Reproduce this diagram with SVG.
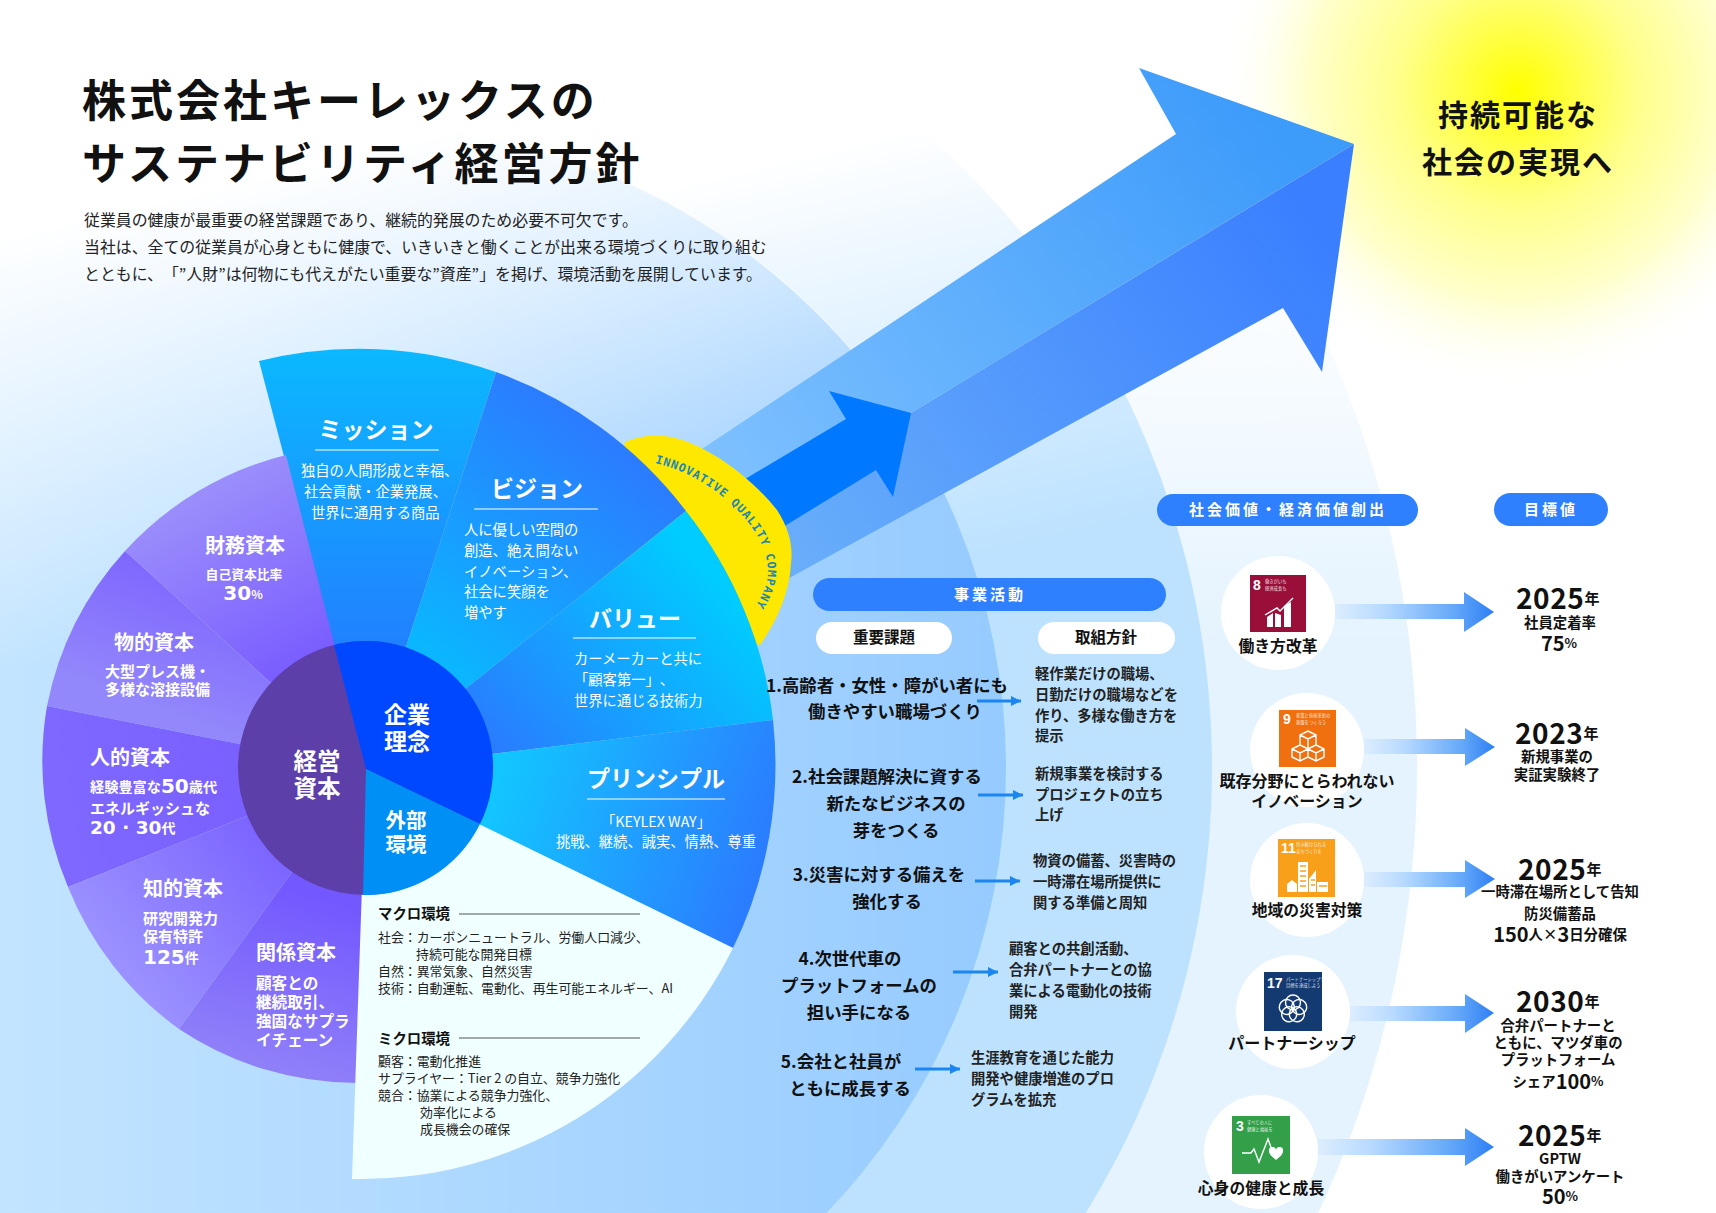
<svg xmlns="http://www.w3.org/2000/svg" width="1716" height="1213" viewBox="0 0 1716 1213">
<style>
text{font-family:"Noto Sans CJK JP","Noto Sans",sans-serif;dominant-baseline:central;transform:translateY(-1.8px);font-feature-settings:"chws" 0;text-spacing-trim:space-all}
.w{fill:#fff}.k{fill:#111}.b{font-weight:700}
.m{text-anchor:middle}
.h{font-size:20px;font-weight:700;fill:#fff}
.t{font-size:23px;font-weight:700;fill:#fff;text-anchor:middle}
.c{font-size:14.3px;fill:#fff}
.p{font-size:15px;font-weight:700;fill:#fff}
.dg{font-family:"DejaVu Sans",sans-serif;font-weight:700;font-size:20px}
.e{font-size:12.9px;fill:#222}
.eh{font-size:14.4px;font-weight:700;fill:#111}
.iss{font-size:17.4px;font-weight:700;fill:#111;text-anchor:middle}
.pol{font-size:14.3px;font-weight:700;fill:#222}
.pill{fill:#2f80ff}
.pt{font-size:15px;font-weight:700;fill:#fff;text-anchor:middle;letter-spacing:3px}
.wp{fill:#fff}
.wt{font-size:15.5px;font-weight:700;fill:#111;text-anchor:middle}
.lab{font-size:15.8px;font-weight:700;fill:#111;text-anchor:middle}
.val{font-size:14.4px;font-weight:700;fill:#111;text-anchor:middle}
.yr{font-size:28px;font-weight:700;fill:#111;text-anchor:middle;letter-spacing:.6px}
.yr tspan{font-size:15px}
.big{font-size:20px}
.ul{stroke:#fff;stroke-width:1.2}
.gl{stroke:#555;stroke-width:1.2}
.tiny{font-size:4.3px;fill:#fff;opacity:.85}
.num{font-size:14px;font-weight:700;fill:#fff;font-family:"Liberation Sans",sans-serif}
.conn{stroke:#1b86f0;stroke-width:3;fill:none;marker-end:url(#ah)}
.fat{fill:url(#fatArrow)}
.pic{stroke:#fff;fill:none;stroke-width:1.4}
.picf{fill:#fff}
</style>
<defs>
<linearGradient id="r1" gradientUnits="userSpaceOnUse" x1="0" y1="0" x2="1000" y2="0"><stop offset="0" stop-color="#c2e4ff"/><stop offset="1" stop-color="#96cbff"/></linearGradient>
<linearGradient id="r1f" gradientUnits="userSpaceOnUse" x1="52" y1="224" x2="150" y2="643"><stop offset="0" stop-color="#fff"/><stop offset="1" stop-color="#fff" stop-opacity="0"/></linearGradient>
<linearGradient id="r2" gradientUnits="userSpaceOnUse" x1="75" y1="321" x2="172" y2="740"><stop offset="0" stop-color="#fff"/><stop offset="1" stop-color="#bde2ff"/></linearGradient>
<linearGradient id="r3" gradientUnits="userSpaceOnUse" x1="0" y1="250" x2="0" y2="650"><stop offset="0" stop-color="#fff"/><stop offset="1" stop-color="#e4f3fe"/></linearGradient>
<radialGradient id="sun" gradientUnits="userSpaceOnUse" cx="1518" cy="90" r="300"><stop offset="0" stop-color="#ffff00"/><stop offset=".2" stop-color="#ffff48"/><stop offset=".4" stop-color="#ffff8c"/><stop offset=".7" stop-color="#ffffcc"/><stop offset="1" stop-color="#ffffff" stop-opacity="0"/></radialGradient>
<linearGradient id="au" gradientUnits="userSpaceOnUse" x1="1260" y1="110" x2="720" y2="520"><stop offset="0" stop-color="#3d9bfa"/><stop offset="1" stop-color="#80c2ff"/></linearGradient>
<linearGradient id="al" gradientUnits="userSpaceOnUse" x1="1300" y1="200" x2="790" y2="560"><stop offset="0" stop-color="#3a7fff"/><stop offset="1" stop-color="#68aefa"/></linearGradient>
<linearGradient id="s1" gradientUnits="userSpaceOnUse" x1="0" y1="350" x2="0" y2="650"><stop offset="0" stop-color="#0bb8ff"/><stop offset="1" stop-color="#2180ff"/></linearGradient>
<linearGradient id="s2" gradientUnits="userSpaceOnUse" x1="590" y1="420" x2="420" y2="640"><stop offset="0" stop-color="#2c7bff"/><stop offset="1" stop-color="#0bb5ff"/></linearGradient>
<linearGradient id="s3" gradientUnits="userSpaceOnUse" x1="700" y1="560" x2="490" y2="750"><stop offset="0" stop-color="#00ccff"/><stop offset="1" stop-color="#2a7bff"/></linearGradient>
<linearGradient id="s4" gradientUnits="userSpaceOnUse" x1="500" y1="770" x2="760" y2="860"><stop offset="0" stop-color="#12c6ff"/><stop offset="1" stop-color="#2b7dff"/></linearGradient>
<linearGradient id="f1" gradientUnits="userSpaceOnUse" x1="220" y1="470" x2="320" y2="650"><stop offset="0" stop-color="#9c90fb"/><stop offset="1" stop-color="#7b5eff"/></linearGradient>
<linearGradient id="f2" gradientUnits="userSpaceOnUse" x1="180" y1="540" x2="120" y2="700"><stop offset="0" stop-color="#7a5fff"/><stop offset="1" stop-color="#9388fb"/></linearGradient>
<linearGradient id="f3" gradientUnits="userSpaceOnUse" x1="240" y1="770" x2="60" y2="800"><stop offset="0" stop-color="#7a60ff"/><stop offset="1" stop-color="#7e68ff"/></linearGradient>
<linearGradient id="f4" gradientUnits="userSpaceOnUse" x1="270" y1="840" x2="120" y2="960"><stop offset="0" stop-color="#7b64ff"/><stop offset="1" stop-color="#9a90ff"/></linearGradient>
<linearGradient id="f5" gradientUnits="userSpaceOnUse" x1="330" y1="900" x2="280" y2="1070"><stop offset="0" stop-color="#7358ff"/><stop offset="1" stop-color="#8f80f8"/></linearGradient>
<linearGradient id="fatArrow" x1="0" y1="0" x2="1" y2="0"><stop offset="0" stop-color="#dcedff"/><stop offset=".3" stop-color="#b8daff"/><stop offset=".75" stop-color="#64a8f8"/><stop offset="1" stop-color="#2d7ff5"/></linearGradient>
<marker id="ah" markerUnits="userSpaceOnUse" markerWidth="12" markerHeight="12" refX="10" refY="5" orient="auto"><path d="M0,0L10,5L0,10Z" fill="#1b86f0"/></marker>
<path id="iq" d="M655,463C695,472 735,500 757,535C772,562 772,582 754,608"/>
</defs>

<g id="background">
<rect width="1716" height="1213" fill="#fff"/>
<circle cx="365" cy="768" r="1052" fill="url(#r3)"/>
<circle cx="365" cy="768" r="847" fill="url(#r2)"/>
<circle cx="365" cy="768" r="641" fill="url(#r1)"/>
<circle cx="365" cy="768" r="642" fill="url(#r1f)"/>
<rect x="1200" y="0" width="516" height="420" fill="url(#sun)"/>
</g>

<g id="growth-arrow">
<path d="M1139,68L1354,144L911,413L786,522L700,590L640,490L1176,134Z" fill="url(#au)"/>
<path d="M1354,144L1322,372L1283,308L791,577L700,620L780,500L911,413Z" fill="url(#al)"/>
<path d="M829,391L911,413L893,497L876,470L770,535L740,482L846,419Z" fill="#0078ff"/>
</g>

<g id="quality-badge">
<path d="M625,442Q645,434 663,436C695,438 745,470 777,510C790,530 793,548 791,563C790,590 778,620 760,645L600,600Z" fill="#ffe800"/>
<text style="font-family:'DejaVu Sans Mono',monospace;dominant-baseline:auto;transform:none" font-size="11.5" font-weight="700" fill="#1a86b5" textLength="203"><textPath href="#iq">INNOVATIVE QUALITY COMPANY</textPath></text>
</g>

<g id="mission"><path d="M366,769L259,361A415,415 0 0 1 496,372Z" fill="url(#s1)"/>
<text class="t" x="376" y="430">ミッション</text><line class="ul" x1="315" y1="450" x2="439" y2="450"/>
<text class="c" x="301" y="471">独自の人間形成と幸福、</text><text class="c" x="304" y="492">社会貢献・企業発展、</text><text class="c" x="311" y="513">世界に通用する商品</text></g>
<g id="vision"><path d="M366,769L496,372A415,415 0 0 1 686,511Z" fill="url(#s2)"/>
<text class="t" x="537" y="489">ビジョン</text><line class="ul" x1="474" y1="509" x2="598" y2="509"/>
<text class="c" x="464" y="530">人に優しい空間の</text><text class="c" x="464" y="551">創造、絶え間ない</text><text class="c" x="464" y="572">イノベーション、</text><text class="c" x="464" y="592">社会に笑顔を</text><text class="c" x="464" y="613">増やす</text></g>
<g id="value"><path d="M366,769L686,511A415,415 0 0 1 773,720Z" fill="url(#s3)"/>
<text class="t" x="635" y="619">バリュー</text><line class="ul" x1="573" y1="638" x2="696" y2="638"/>
<text class="c" x="574" y="659">カーメーカーと共に</text><text class="c" x="574" y="680">「顧客第一」、</text><text class="c" x="574" y="701">世界に通じる技術力</text></g>
<g id="principle"><path d="M366,769L773,720A415,415 0 0 1 733,948Z" fill="url(#s4)"/>
<text class="t" x="656" y="779">プリンシプル</text><line class="ul" x1="587" y1="799" x2="725" y2="799"/>
<text class="c m" x="656" y="822">「KEYLEX WAY」</text><text class="c m" x="656" y="842">挑戦、継続、誠実、情熱、尊重</text></g>

<g id="financial-capital"><path d="M366,769L286,455A323,323 0 0 0 125,551Z" fill="url(#f1)"/>
<text class="h m" x="245" y="546">財務資本</text><text class="p m" x="244" y="575" style="font-size:12.8px">自己資本比率</text><text class="p m" x="243" y="595"><tspan class="dg">30</tspan><tspan style="font-size:12px">%</tspan></text></g>
<g id="physical-capital"><path d="M366,769L125,551A323,323 0 0 0 47,706Z" fill="url(#f2)"/>
<text class="h m" x="154" y="643">物的資本</text><text class="p" x="105" y="672">大型プレス機・</text><text class="p" x="105" y="690">多様な溶接設備</text></g>
<g id="human-capital"><path d="M366,769L47,706A323,323 0 0 0 68,887Z" fill="url(#f3)"/>
<text class="h" x="90" y="758">人的資本</text><text class="p" x="90" y="788" style="font-size:14.2px">経験豊富な<tspan class="dg">50</tspan>歳代</text><text class="p" x="90" y="809">エネルギッシュな</text><text class="p" x="90" y="829"><tspan class="dg" style="font-size:18.5px">20 · 30</tspan><tspan style="font-size:14px">代</tspan></text></g>
<g id="intellectual-capital"><path d="M366,769L68,887A323,323 0 0 0 179,1029Z" fill="url(#f4)"/>
<text class="h" x="143" y="889">知的資本</text><text class="p" x="143" y="919">研究開発力</text><text class="p" x="143" y="937">保有特許</text><text class="p" x="143" y="959"><tspan class="dg">125</tspan><tspan style="font-size:14px">件</tspan></text></g>
<g id="relationship-capital"><path d="M366,769L179,1029A320,320 0 0 0 358,1083Z" fill="url(#f5)"/>
<text class="h" x="256" y="953">関係資本</text><text class="p" x="256" y="984" style="font-size:15.6px">顧客との</text><text class="p" x="256" y="1003" style="font-size:15.6px">継続取引、</text><text class="p" x="256" y="1022" style="font-size:15.6px">強固なサプラ</text><text class="p" x="256" y="1041" style="font-size:15.6px">イチェーン</text></g>

<g id="external-environment"><path d="M366,769L733,948A415,415 0 0 1 352,1179Z" fill="#f0ffff"/>
<text class="eh" x="378" y="914">マクロ環境</text><line class="gl" x1="459" y1="914" x2="640" y2="914"/>
<text class="e" x="378" y="938">社会：カーボンニュートラル、労働人口減少、</text><text class="e" x="416" y="955">持続可能な開発目標</text><text class="e" x="378" y="972">自然：異常気象、自然災害</text><text class="e" x="378" y="989">技術：自動運転、電動化、再生可能エネルギー、AI</text>
<text class="eh" x="378" y="1039">ミクロ環境</text><line class="gl" x1="459" y1="1038" x2="640" y2="1038"/>
<text class="e" x="378" y="1062">顧客：電動化推進</text><text class="e" x="378" y="1079">サプライヤー：Tier 2 の自立、競争力強化</text><text class="e" x="378" y="1096">競合：協業による競争力強化、</text><text class="e" x="420" y="1113">効率化による</text><text class="e" x="420" y="1130">成長機会の確保</text></g>

<g id="management-capital-core"><circle cx="365" cy="768" r="127" fill="#5c3fa8"/>
<text class="t" x="317" y="762" style="font-size:23.5px">経営</text><text class="t" x="317" y="789" style="font-size:23.5px">資本</text></g>
<g id="philosophy-core"><path d="M366,769L334,645A127,127 0 0 1 480,824Z" fill="#0048ff"/>
<text class="t" x="407" y="715">企業</text><text class="t" x="407" y="742">理念</text></g>
<g id="environment-core"><path d="M366,769L480,824A127,127 0 0 1 363,895Z" fill="#0090f5"/>
<text class="t" x="406" y="821" style="font-size:20.5px">外部</text><text class="t" x="406" y="845" style="font-size:20.5px">環境</text></g>

<g id="heading">
<text x="82" y="100" font-size="44" font-weight="700" fill="#111" letter-spacing="3">株式会社キーレックスの</text>
<text x="82" y="163" font-size="44" font-weight="700" fill="#111" letter-spacing="3">サステナビリティ経営方針</text>
<text x="84" y="221" font-size="15.9" fill="#222">従業員の健康が最重要の経営課題であり、継続的発展のため必要不可欠です。</text>
<text x="84" y="248" font-size="15.9" fill="#222">当社は、全ての従業員が心身ともに健康で、いきいきと働くことが出来る環境づくりに取り組む</text>
<text x="84" y="275" font-size="15.9" fill="#222">とともに、「”人財”は何物にも代えがたい重要な”資産”」を掲げ、環境活動を展開しています。</text>
</g>
<g id="goal"><text class="m b" x="1518" y="115" font-size="30" letter-spacing="2" fill="#111">持続可能な</text><text class="m b" x="1518" y="162" font-size="30" letter-spacing="2" fill="#111">社会の実現へ</text></g>

<g id="business-headers">
<rect class="pill" x="813" y="578" width="353" height="33" rx="16.5"/><text class="pt" x="990" y="595">事業活動</text>
<rect class="wp" x="816" y="622" width="136" height="32" rx="16"/><text class="wt" x="884" y="638">重要課題</text>
<rect class="wp" x="1038" y="622" width="137" height="32" rx="16"/><text class="wt" x="1106" y="638">取組方針</text>
</g>
<g id="issue-1"><text class="iss" x="887" y="686">1.高齢者・女性・障がい者にも</text><text class="iss" x="895" y="712">働きやすい職場づくり</text></g>
<g id="policy-1"><text class="pol" x="1035" y="674">軽作業だけの職場、</text><text class="pol" x="1035" y="695">日勤だけの職場などを</text><text class="pol" x="1035" y="716">作り、多様な働き方を</text><text class="pol" x="1035" y="736">提示</text></g>
<g id="issue-2"><text class="iss" x="887" y="777">2.社会課題解決に資する</text><text class="iss" x="896" y="804">新たなビジネスの</text><text class="iss" x="896" y="831">芽をつくる</text></g>
<g id="policy-2"><text class="pol" x="1035" y="774">新規事業を検討する</text><text class="pol" x="1035" y="795">プロジェクトの立ち</text><text class="pol" x="1035" y="815">上げ</text></g>
<g id="issue-3"><text class="iss" x="879" y="875">3.災害に対する備えを</text><text class="iss" x="887" y="902">強化する</text></g>
<g id="policy-3"><text class="pol" x="1033" y="861">物資の備蓄、災害時の</text><text class="pol" x="1033" y="882">一時滞在場所提供に</text><text class="pol" x="1033" y="903">関する準備と周知</text></g>
<g id="issue-4"><text class="iss" x="850" y="959">4.次世代車の</text><text class="iss" x="859" y="986">プラットフォームの</text><text class="iss" x="859" y="1013">担い手になる</text></g>
<g id="policy-4"><text class="pol" x="1009" y="949">顧客との共創活動、</text><text class="pol" x="1009" y="970">合弁パートナーとの協</text><text class="pol" x="1009" y="991">業による電動化の技術</text><text class="pol" x="1009" y="1012">開発</text></g>
<g id="issue-5"><text class="iss" x="841" y="1062">5.会社と社員が</text><text class="iss" x="850" y="1089">ともに成長する</text></g>
<g id="policy-5"><text class="pol" x="971" y="1058">生涯教育を通じた能力</text><text class="pol" x="971" y="1079">開発や健康増進のプロ</text><text class="pol" x="971" y="1100">グラムを拡充</text></g>

<g id="value-headers">
<rect class="pill" x="1157" y="494" width="261" height="32" rx="16"/><text class="pt" x="1288" y="510">社会価値・経済価値創出</text>
<rect class="pill" x="1494" y="493" width="114" height="33" rx="16.500"/><text class="pt" x="1551" y="510">目標値</text>
</g>

<g id="connectors">
<line class="conn" x1="977" y1="701" x2="1021" y2="701"/>
<line class="conn" x1="978" y1="795" x2="1023" y2="795"/>
<line class="conn" x1="975" y1="881" x2="1020" y2="881"/>
<line class="conn" x1="953" y1="972" x2="998" y2="972"/>
<line class="conn" x1="915" y1="1069" x2="960" y2="1069"/>
<path class="fat" d="M1335,604H1464V592L1494,612L1464,632V619H1335Z"/>
<path class="fat" d="M1364,739H1465V728L1495,747L1465,766V754H1364Z"/>
<path class="fat" d="M1364,872H1465V860L1495,879L1465,898V887H1364Z"/>
<path class="fat" d="M1350,1006H1465V994L1494,1013L1465,1033V1021H1350Z"/>
<path class="fat" d="M1318,1139H1465V1128L1494,1147L1465,1166V1155H1318Z"/>
</g>

<g id="sdg-8"><circle class="wp" cx="1278" cy="613" r="57"/><rect x="1250" y="575" width="56" height="57" fill="#9a0f3a"/>
<text class="num" x="1253" y="587">8</text><text class="tiny" x="1265" y="583">働きがいも</text><text class="tiny" x="1265" y="590">経済成長も</text>
<path class="picf" d="M1267,617l6,-4v14h-6zM1275,613l6,2v12h-6zM1284,606l7,-4v25h-7z"/><path class="pic" d="M1265,615L1277,608L1280,611L1293,598"/>
<text class="lab" x="1278" y="647">働き方改革</text></g>
<g id="sdg-9"><circle class="wp" cx="1307" cy="750" r="57"/><rect x="1279" y="710" width="57" height="57" fill="#f0700f"/>
<text class="num" x="1283" y="721">9</text><text class="tiny" x="1296" y="717">産業と技術革新の</text><text class="tiny" x="1296" y="724">基盤をつくろう</text>
<path class="pic" d="M1308,731l8,4v10l-8,4l-8,-4v-10zM1300,735l8,4l8,-4M1308,739v10M1300,745l-8,4v8l8,4l8,-4v-8M1292,749l8,4l8,-4M1300,753v8M1316,745l8,4v8l-8,4l-8,-4M1308,749l8,4l8,-4M1316,753v8"/>
<text class="lab" x="1307" y="782" style="font-size:16px">既存分野にとらわれない</text><text class="lab" x="1307" y="802" style="font-size:16px">イノベーション</text></g>
<g id="sdg-11"><circle class="wp" cx="1307" cy="880" r="57"/><rect x="1278" y="839" width="57" height="58" fill="#f9a01b"/>
<text class="num" x="1281" y="850">11</text><text class="tiny" x="1296" y="846">住み続けられる</text><text class="tiny" x="1296" y="853">まちづくりを</text>
<path class="picf" d="M1298,892v-30h10v30zM1287,892v-8l5,-4l5,4v8zM1309,892v-13l7,-9v22zM1317,892v-10h11v10z"/><path d="M1300,866h6M1300,871h6M1300,876h6M1300,881h6M1300,886h6M1311,880h4M1311,885h4M1319,886h8" stroke="#f9a01b" stroke-width="1.300"/>
<text class="lab" x="1307" y="911">地域の災害対策</text></g>
<g id="sdg-17"><circle class="wp" cx="1293" cy="1012" r="57"/><rect x="1264" y="972" width="58" height="59" fill="#143a72"/>
<text class="num" x="1267" y="985">17</text><text class="tiny" x="1286" y="981">パートナーシップで</text><text class="tiny" x="1286" y="987">目標を達成しよう</text>
<g class="pic" transform="translate(1293,1009)"><circle cy="-6.500" r="7.500"/><circle cy="-6.500" r="7.500" transform="rotate(72)"/><circle cy="-6.500" r="7.500" transform="rotate(144)"/><circle cy="-6.500" r="7.500" transform="rotate(216)"/><circle cy="-6.500" r="7.500" transform="rotate(288)"/></g>
<text class="lab" x="1292" y="1044" style="font-size:16px">パートナーシップ</text></g>
<g id="sdg-3"><circle class="wp" cx="1261" cy="1152" r="57"/><rect x="1232" y="1116" width="58" height="58" fill="#33a049"/>
<text class="num" x="1236" y="1128">3</text><text class="tiny" x="1247" y="1124">すべての人に</text><text class="tiny" x="1247" y="1131">健康と福祉を</text>
<path class="pic" d="M1242,1153h9l3,-4l5,13l9,-23l5,14"/><path class="picf" d="M1276,1160c-5,-4 -7,-6 -7,-9a3.500,3.500 0 0 1 7,-1a3.500,3.500 0 0 1 7,1c0,3 -2,5 -7,9z"/>
<text class="lab" x="1261" y="1189">心身の健康と成長</text></g>

<g id="target-2025-retention"><text class="yr" x="1558" y="599">2025<tspan>年</tspan></text><text class="val" x="1560" y="623">社員定着率</text><text class="val" x="1559" y="644"><tspan class="big">75</tspan><tspan style="font-size:13px">%</tspan></text></g>
<g id="target-2023-demo"><text class="yr" x="1557" y="734">2023<tspan>年</tspan></text><text class="val" x="1557" y="757">新規事業の</text><text class="val" x="1557" y="775">実証実験終了</text></g>
<g id="target-2025-disaster"><text class="yr" x="1560" y="870">2025<tspan>年</tspan></text><text class="val" x="1560" y="892">一時滞在場所として告知</text><text class="val" x="1560" y="914">防災備蓄品</text><text class="val" x="1560" y="935"><tspan class="big">150</tspan>人×<tspan class="big">3</tspan>日分確保</text></g>
<g id="target-2030-platform"><text class="yr" x="1558" y="1002">2030<tspan>年</tspan></text><text class="val" x="1558" y="1026">合弁パートナーと</text><text class="val" x="1558" y="1043">ともに、マツダ車の</text><text class="val" x="1558" y="1060">プラットフォーム</text><text class="val" x="1558" y="1082">シェア<tspan class="big">100</tspan><tspan style="font-size:13px">%</tspan></text></g>
<g id="target-2025-gptw"><text class="yr" x="1560" y="1136">2025<tspan>年</tspan></text><text class="val" x="1560" y="1159">GPTW</text><text class="val" x="1560" y="1177">働きがいアンケート</text><text class="val" x="1560" y="1197"><tspan class="big">50</tspan><tspan style="font-size:13px">%</tspan></text></g>
</svg>
